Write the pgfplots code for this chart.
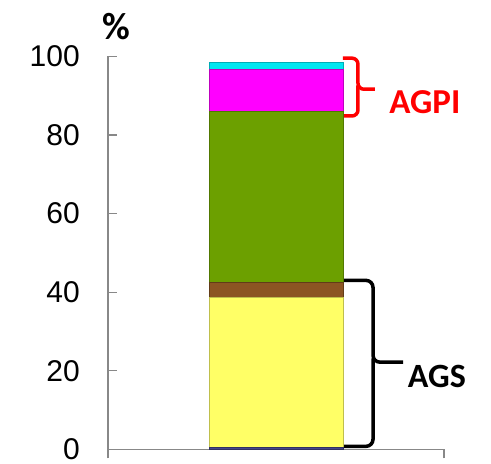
\documentclass[border=0pt]{standalone}
\usepackage{pgfplots}
\pgfplotsset{compat=1.18}
\usepackage{fontspec}
\setmainfont{Liberation Sans}
\newfontfamily\calibri{Carlito}
\definecolor{cpurple}{RGB}{70,70,140}
\definecolor{cyellow}{RGB}{255,255,102}
\definecolor{cbrown}{RGB}{140,85,35}
\definecolor{cgreen}{RGB}{108,160,0}
\definecolor{cmagenta}{RGB}{255,0,255}
\definecolor{ccyan}{RGB}{0,230,240}
\definecolor{axgray}{RGB}{136,136,136}
\begin{document}
\begin{tikzpicture}
\useasboundingbox (0,0) rectangle (491pt,464pt);
\begin{axis}[
  at={(108pt,14.5pt)}, anchor=south west,
  scale only axis, width=336pt, height=393.3pt,
  xmin=-0.5, xmax=0.5, ymin=0, ymax=100,
  axis x line*=bottom, axis y line*=left,
  axis line style={axgray, line width=1.3pt, -},
  xtick={-0.5,0.5}, xticklabels={},
  ytick={0,20,40,60,80,100},
  xtick align=outside, ytick align=inside,
  major tick length=9pt,
  tick style={axgray, line width=1.3pt},
  /pgf/number format/assume math mode=true,
  yticklabel style={font=\fontsize{30}{30}\selectfont, inner sep=0pt, anchor=east, xshift=-28pt},
  ybar stacked, bar width=134pt,
  clip=false,
]
\addplot[fill=cpurple, draw=cpurple!70!black] coordinates {(0,0.6)};
\addplot[fill=cyellow, draw=cyellow!75!black] coordinates {(0,38.0)};
\addplot[fill=cbrown, draw=cbrown!70!black] coordinates {(0,3.9)};
\addplot[fill=cgreen, draw=cgreen!75!black] coordinates {(0,43.5)};
\addplot[fill=cmagenta, draw=cmagenta!75!black] coordinates {(0,10.6)};
\addplot[fill=ccyan, draw=ccyan!75!black] coordinates {(0,2.0)};
% braces
\draw[black, line width=3.5pt, rounded corners=7pt]
  (axis cs:0.1994,43) -- (axis cs:0.2887,43) -- (axis cs:0.2887,22.2) -- (axis cs:0.378,22.2);
\draw[black, line width=3.5pt, rounded corners=7pt]
  (axis cs:0.2887,23.2) -- (axis cs:0.2887,0.8) -- (axis cs:0.1994,0.8);
\draw[red, line width=3.5pt, rounded corners=6pt]
  (axis cs:0.1994,99.5) -- (axis cs:0.244,99.5) -- (axis cs:0.244,91.6) -- (axis cs:0.2946,91.6);
\draw[red, line width=3.5pt, rounded corners=6pt]
  (axis cs:0.244,92.6) -- (axis cs:0.244,84.8) -- (axis cs:0.1994,84.8);
\node[font=\calibri\bfseries\fontsize{34}{34}\selectfont, inner sep=0pt] at (axis cs:0.479,18.6) {AGS};
\node[font=\calibri\bfseries\fontsize{35}{35}\selectfont, inner sep=0pt, text=red] at (axis cs:0.443,88.4) {AGPI};
\node[font=\calibri\bfseries\fontsize{38}{38}\selectfont, inner sep=0pt] at (axis cs:-0.475,107.6) {\%};
\end{axis}
\end{tikzpicture}
\end{document}
